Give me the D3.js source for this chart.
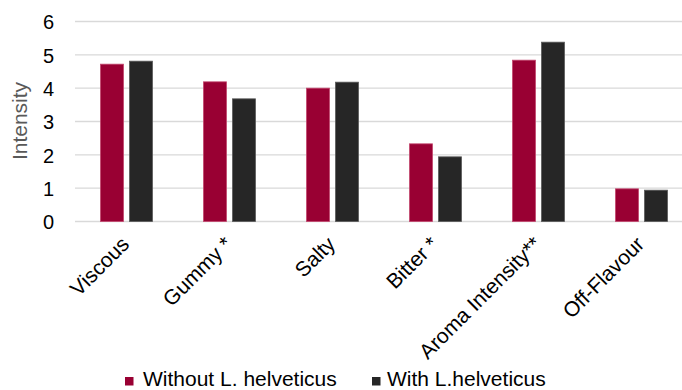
<!DOCTYPE html>
<html>
<head>
<meta charset="utf-8">
<script src="https://cdn.jsdelivr.net/npm/d3@7"></script>
<style>
  html, body { margin: 0; padding: 0; background: #fff; }
  svg { display: block; font-family: "Liberation Sans", Arial, sans-serif; }
</style>
</head>
<body>
<svg id="chart" width="682" height="390"></svg>
<script>
// Sensory attributes and mean intensity scores
const categories = ["Viscous", "Gummy *", "Salty", "Bitter *", "Aroma Intensity**", "Off-Flavour"];
const seriesNames = ["Without L. helveticus", "With L.helveticus"];
const withoutValues = [4.72, 4.19, 4.00, 2.33, 4.84, 0.98];
const withValues = [4.81, 3.68, 4.18, 1.94, 5.38, 0.94];
const yTicks = [0, 1, 2, 3, 4, 5, 6];

const colors = ["#990033", "#262626"];
const strokes = ["#c2476e", "#5a5a5a"];

const svg = d3.select("#chart");
const plotLeft = 75, plotRight = 693, plotTop = 21.5, plotBottom = 221.5;

const x = d3.scaleBand().domain(categories).range([plotLeft, plotRight]).paddingInner(0).paddingOuter(0);
const y = d3.scaleLinear().domain([0, 6]).range([plotBottom, plotTop]);

const rows = categories.map((c, i) => ({ cat: c, vals: [withoutValues[i], withValues[i]] }));

// Horizontal gridlines
svg.append("g")
  .selectAll("line")
  .data(yTicks)
  .join("line")
  .attr("x1", plotLeft).attr("x2", 682)
  .attr("y1", d => y(d)).attr("y2", d => y(d))
  .attr("stroke", "#d9d9d9").attr("stroke-width", 1.3);

// Y axis tick labels
const yAxis = d3.axisLeft(y).tickValues(yTicks).tickSize(0).tickPadding(0).tickFormat(d3.format("d"));
svg.append("g")
  .attr("transform", `translate(54,0)`)
  .call(yAxis)
  .call(g => g.select(".domain").remove())
  .call(g => g.selectAll("text")
    .attr("font-size", 20).attr("fill", "#000")
    .attr("font-family", "Liberation Sans, Arial, sans-serif")
    .attr("dy", "0.36em"));

// Y axis title
svg.append("text")
  .attr("transform", `translate(27,121) rotate(-90)`)
  .attr("text-anchor", "middle")
  .attr("font-size", 21)
  .attr("fill", "#595959")
  .text("Intensity");

// Bars
const barW = 23, gap = 6;
const groups = svg.append("g").selectAll("g")
  .data(rows)
  .join("g")
  .attr("transform", d => `translate(${x(d.cat) + x.bandwidth() / 2},0)`);

groups.selectAll("rect")
  .data(d => d.vals.map((v, k) => ({ v, k })))
  .join("rect")
  .attr("x", d => d.k === 0 ? -gap / 2 - barW : gap / 2)
  .attr("y", d => y(d.v))
  .attr("width", barW)
  .attr("height", d => y(0) - y(d.v))
  .attr("fill", d => colors[d.k])
  .attr("stroke", d => strokes[d.k])
  .attr("stroke-width", 0.8);

// Category labels, rotated
const xAxis = d3.axisBottom(x).tickSize(0).tickPadding(0);
svg.append("g")
  .attr("transform", `translate(0,${plotBottom})`)
  .call(xAxis)
  .call(g => g.select(".domain").remove())
  .call(g => g.selectAll("text")
    .attr("font-size", 21).attr("fill", "#000")
    .attr("font-family", "Liberation Sans, Arial, sans-serif")
    .attr("text-anchor", "end")
    .attr("dy", 0)
    .attr("transform", "translate(4,24) rotate(-45)"));

// Legend
const legendItems = [
  { x: 125, tx: 18, name: seriesNames[0], c: colors[0] },
  { x: 372, tx: 15, name: seriesNames[1], c: colors[1] }
];
const lg = svg.append("g").selectAll("g").data(legendItems).join("g")
  .attr("transform", d => `translate(${d.x},377)`);
lg.append("rect").attr("width", 8.5).attr("height", 8.5).attr("fill", d => d.c);
lg.append("text")
  .attr("x", d => d.tx).attr("y", 8.5)
  .attr("font-size", 21).attr("fill", "#000")
  .text(d => d.name);
</script>
</body>
</html>
